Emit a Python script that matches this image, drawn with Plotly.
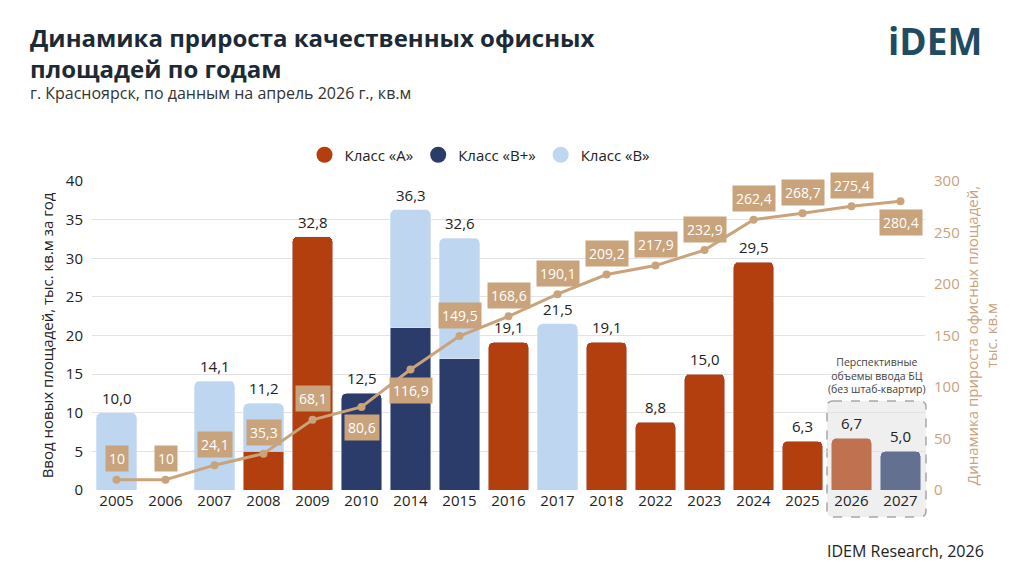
import plotly.graph_objects as go

years = ["2005", "2006", "2007", "2008", "2009", "2010", "2014", "2015", "2016",
         "2017", "2018", "2022", "2023", "2024", "2025", "2026", "2027"]
class_a = [None, None, None, 5.0, 32.8, None, None, None, 19.1, None, 19.1, 8.8, 15.0, 29.5, 6.3, 6.7, None]
class_bplus = [None, None, None, None, None, 12.5, 21.0, 17.0, None, None, None, None, None, None, None, None, 5.0]
class_b = [10.0, None, 14.1, 6.2, None, None, 15.3, 15.6, None, 21.5, None, None, None, None, None, None, None]
cumulative = [10, 10, 24.1, 35.3, 68.1, 80.6, 116.9, 149.5, 168.6, 190.1, 209.2, 217.9, 232.9, 262.4, 268.7, 275.4, 280.4]
cum_labels = ["10", "10", "24,1", "35,3", "68,1", "80,6", "116,9", "149,5", "168,6", "190,1",
              "209,2", "217,9", "232,9", "262,4", "268,7", "275,4", "280,4"]
cum_label_side = [1, 1, 1, 1, 1, -1, -1, 1, 1, 1, 1, 1, 1, 1, 1, 1, -1]
forecast_years = ["2026", "2027"]

C_A = "#B23F0D"
C_A_F = "#C0714F"
C_BP = "#2B3C6A"
C_BP_F = "#63708F"
C_B = "#BFD6F0"
TAN = "#C9A37B"
FONT = "Open Sans"
TXT = "#222222"

fig = go.Figure()
fig.add_trace(go.Bar(x=years, y=class_a, name="Класс «А»", showlegend=False,
                     marker=dict(color=[C_A_F if y in forecast_years else C_A for y in years])))
fig.add_trace(go.Bar(x=years, y=class_bplus, name="Класс «В+»", showlegend=False,
                     marker=dict(color=[C_BP_F if y in forecast_years else C_BP for y in years])))
fig.add_trace(go.Bar(x=years, y=class_b, name="Класс «В»", showlegend=False,
                     marker=dict(color=C_B)))

for nm, col in [("Класс «А»", C_A), ("Класс «В+»", C_BP), ("Класс «В»", C_B)]:
    fig.add_trace(go.Scatter(x=[years[0]], y=[None], mode="markers", name=nm,
                             marker=dict(color=col, size=16, symbol="circle")))

fig.add_trace(go.Scatter(x=years, y=cumulative, yaxis="y2", mode="lines+markers",
                         line=dict(color=TAN, width=3), marker=dict(color=TAN, size=8),
                         showlegend=False))

W, H = 1024, 576
L, R, T, B = 92, 99, 181, 86
pw, ph = W - L - R, H - T - B


def px(x):
    return (x - L) / pw


def py(y):
    return (H - B - y) / ph


ann = []
for i, yr in enumerate(years):
    tot = sum(v for v in (class_a[i], class_bplus[i], class_b[i]) if v)
    if tot > 0:
        ann.append(dict(x=i, y=tot, xref="x", yref="y", yanchor="bottom", yshift=3,
                        text=f"{tot:.1f}".replace(".", ","), showarrow=False,
                        font=dict(family=FONT, size=15, color=TXT)))
    ann.append(dict(x=i, y=cumulative[i], xref="x", yref="y2", yanchor="middle",
                    yshift=21 * cum_label_side[i], text=cum_labels[i], showarrow=False,
                    bgcolor=TAN, borderpad=3, font=dict(family=FONT, size=14, color="white")))

ann += [
    dict(x=px(28), y=py(19), xref="paper", yref="paper", xanchor="left", yanchor="top",
         align="left", showarrow=False,
         text="<b>Динамика прироста качественных офисных<br>площадей по годам</b>",
         font=dict(family=FONT, size=24, color="#1B2A36")),
    dict(x=px(28), y=py(93), xref="paper", yref="paper", xanchor="left", yanchor="middle",
         showarrow=False, text="г. Красноярск, по данным на апрель 2026 г., кв.м",
         font=dict(family=FONT, size=16, color="#333333")),
    dict(x=px(984), y=py(40), xref="paper", yref="paper", xanchor="right", yanchor="middle",
         showarrow=False, text="<b>iDEM</b>",
         font=dict(family=FONT, size=37, color="#1F4B63")),
    dict(x=px(986), y=py(551), xref="paper", yref="paper", xanchor="right", yanchor="middle",
         showarrow=False, text="IDEM Research, 2026",
         font=dict(family=FONT, size=16, color=TXT)),
    dict(x=px(877), y=py(398), xref="paper", yref="paper", xanchor="center", yanchor="bottom",
         showarrow=False, text="Перспективные<br>объемы ввода БЦ<br>(без штаб-квартир)",
         font=dict(family=FONT, size=10.5, color="#444444")),
]
fig.update_layout(annotations=ann)

# dashed rounded box around forecast years
x0, x1, y0, y1 = px(827), px(926), py(517), py(401)
rx, ry = 6 / pw, 6 / ph
path = (f"M {x0+rx},{y1} L {x1-rx},{y1} Q {x1},{y1} {x1},{y1-ry} "
        f"L {x1},{y0+ry} Q {x1},{y0} {x1-rx},{y0} L {x0+rx},{y0} Q {x0},{y0} {x0},{y0+ry} "
        f"L {x0},{y1-ry} Q {x0},{y1} {x0+rx},{y1} Z")
fig.add_shape(type="path", path=path, xref="paper", yref="paper", layer="below",
              fillcolor="#EFEFEF", line=dict(color="#A8A8A8", width=1.5, dash="dash"))

fig.update_layout(
    width=W, height=H,
    margin=dict(l=L, r=R, t=T, b=B),
    paper_bgcolor="white", plot_bgcolor="rgba(0,0,0,0)",
    barmode="stack", bargap=0.18, barcornerradius=5,
    font=dict(family=FONT, size=15, color=TXT),
    legend=dict(orientation="h", x=px(480), xanchor="center", y=py(155), yanchor="middle",
                traceorder="normal",
                font=dict(family=FONT, size=15, color=TXT), itemwidth=30,
                bgcolor="rgba(0,0,0,0)"),
    xaxis=dict(type="category", categoryorder="array", categoryarray=years,
               range=[-0.5, len(years) - 0.5], tickfont=dict(size=15, color=TXT),
               showgrid=False, ticks="", showline=False),
    yaxis=dict(range=[0, 40], dtick=5, gridcolor="#E3E3E3", gridwidth=1, zeroline=False,
               tickfont=dict(size=15, color=TXT), ticks="", ticklabelstandoff=8,
               title=dict(text="Ввод новых площадей, тыс. кв.м за год", standoff=8,
                          font=dict(size=15, color=TXT))),
    yaxis2=dict(range=[0, 300], dtick=50, overlaying="y", side="right", showgrid=False,
                zeroline=False, tickfont=dict(size=15, color=TAN), ticks="",
                ticklabelstandoff=8,
                title=dict(text="Динамика прироста офисных площадей,<br>тыс. кв.м",
                           standoff=8, font=dict(size=15, color=TAN))),
)

fig.write_html("out.html")
